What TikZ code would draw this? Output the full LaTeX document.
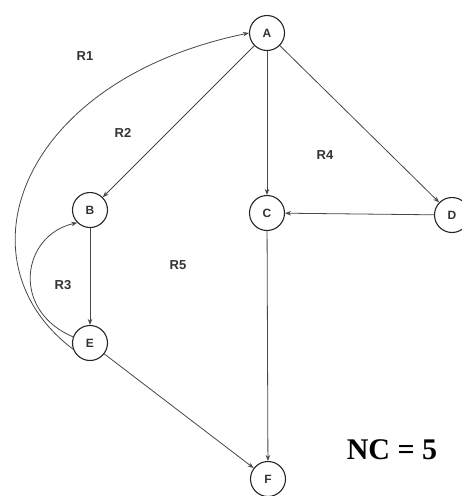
\documentclass[tikz,border=0pt]{standalone}
\usepackage{fontspec}
\setmainfont{Liberation Sans}
\newfontfamily\nctfont{Liberation Serif}
\usetikzlibrary{arrows.meta}
\begin{document}
\begin{tikzpicture}[x=1pt,y=-1pt,
  vert/.style={circle,draw=black!85,line width=1.1pt,minimum size=35pt,inner sep=0pt,font=\bfseries\fontsize{12}{12}\selectfont,text=black!80},
  edge/.style={draw=black!72,line width=0.8pt,-{Stealth[length=6pt,width=4.5pt]}},
  rlab/.style={font=\bfseries\fontsize{13}{13}\selectfont,text=black!80}]
\useasboundingbox (0,0) rectangle (462,496);
\node[vert] (A) at (267,33) {A};
\node[vert] (B) at (90,210) {B};
\node[vert] (C) at (267,213) {C};
\node[vert] (D) at (452,215) {D};
\node[vert] (E) at (90,343) {E};
\node[vert] (F) at (268,479) {F};
\draw[edge] (A) -- (B);
\draw[edge] (A) -- (C);
\draw[edge] (A) -- (D);
\draw[edge] (D) -- (C);
\draw[edge] (C) -- (F);
\draw[edge] (B) -- (E);
\draw[edge] (E) -- (F);
\draw[edge] (E.200) .. controls (-45,260) and (20,80) .. (A.west);
\draw[edge] (E.160) .. controls (10,310) and (22,235) .. (B.225);
\node[rlab] (r1) at (85,56) {R1};
\node[rlab] (r2) at (123,133) {R2};
\node[rlab] (r3) at (63,285) {R3};
\node[rlab] (r4) at (325,155) {R4};
\node[rlab] (r5) at (178,265) {R5};
\node[font=\nctfont\bfseries\fontsize{30}{30}\selectfont] (nc) at (392,450) {NC = 5};
\end{tikzpicture}
\end{document}
